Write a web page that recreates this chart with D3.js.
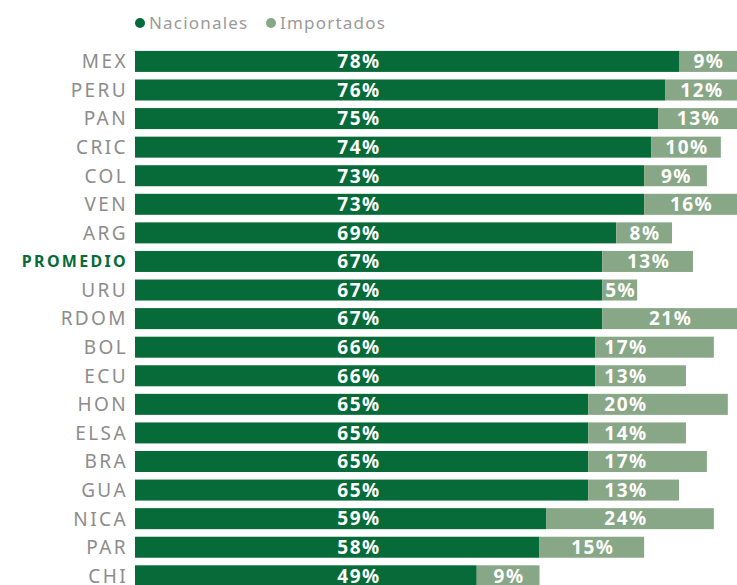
<!DOCTYPE html>
<html>
<head>
<meta charset="utf-8">
<script src="https://d3js.org/d3.v7.min.js"></script>
<style>
  body { margin: 0; background: #fff; }
  svg text { font-family: "Noto Sans", sans-serif; }
</style>
</head>
<body>
<script>
  const paises = ["MEX","PERU","PAN","CRIC","COL","VEN","ARG","PROMEDIO","URU","RDOM","BOL","ECU","HON","ELSA","BRA","GUA","NICA","PAR","CHI"];
  const nacionales = [78,76,75,74,73,73,69,67,67,67,66,66,65,65,65,65,59,58,49];
  const importados = [9,12,13,10,9,16,8,13,5,21,17,13,20,14,17,13,24,15,9];
  const series = ["Nacionales","Importados"];

  const w = 737, h = 585;
  const left = 135;
  const colNac = "#076a39", colImp = "#88a786";

  const svg = d3.select("body").append("svg")
    .attr("width", w).attr("height", h);

  const x = d3.scaleLinear().domain([0, 78]).range([left, 679]);
  const y = d3.scaleBand().domain(paises).range([51 - 7.6*0.5, 51 - 3.8 + 28.57*19]).paddingInner(0.265).paddingOuter(0.13);

  const rows = paises.map((p, i) => ({ p, nac: nacionales[i], imp: importados[i] }));

  // nacionales
  svg.selectAll("rect.nac").data(rows).enter().append("rect")
    .attr("x", x(0)).attr("y", d => y(d.p))
    .attr("width", d => x(d.nac) - x(0)).attr("height", y.bandwidth())
    .attr("fill", colNac);

  // importados
  svg.selectAll("rect.imp").data(rows).enter().append("rect")
    .attr("x", d => x(d.nac)).attr("y", d => y(d.p))
    .attr("width", d => x(d.nac + d.imp) - x(d.nac)).attr("height", y.bandwidth())
    .attr("fill", colImp);

  // etiquetas nacionales (columna fija)
  const colLabel = x(0) + (x(78) - x(0)) * 0.41 + 1;
  svg.selectAll("text.vn").data(rows).enter().append("text")
    .attr("x", colLabel).attr("y", d => y(d.p) + y.bandwidth() / 2)
    .attr("dy", "0.36em").attr("text-anchor", "middle")
    .attr("fill", "#fff").attr("font-weight", 700).attr("font-size", 19)
    .attr("letter-spacing", 1.5)
    .text(d => d.nac + "%");

  // etiquetas importados
  const colImpLabel = 626;
  svg.selectAll("text.vi").data(rows).enter().append("text")
    .attr("x", d => {
      const s = x(d.nac), e = x(d.nac + d.imp);
      if (s <= 602 && e >= 645 && d.p !== "PROMEDIO") return colImpLabel;
      return (s + Math.min(e, w)) / 2 + 1;
    })
    .attr("y", d => y(d.p) + y.bandwidth() / 2)
    .attr("dy", "0.36em").attr("text-anchor", "middle")
    .attr("fill", "#fff").attr("font-weight", 700).attr("font-size", 19)
    .attr("letter-spacing", 1.5)
    .text(d => d.imp + "%");

  // eje de países
  const yAxis = svg.append("g")
    .attr("transform", "translate(" + (left - 7) + ",0)")
    .call(d3.axisLeft(y).tickSize(0).tickPadding(0));
  yAxis.select(".domain").remove();
  yAxis.selectAll("text")
    .attr("font-family", "Noto Sans, sans-serif")
    .attr("font-size", 19).attr("fill", "#8c8c8c").attr("dy", "0.36em")
    .attr("letter-spacing", 2.4)
    .filter(d => d === "PROMEDIO")
    .attr("font-size", 16).attr("font-weight", 700).attr("fill", colNac)
    .attr("letter-spacing", 2.3);

  // leyenda
  const leg = svg.append("g").attr("transform", "translate(140,23)");
  const items = leg.selectAll("g").data(series).enter().append("g")
    .attr("transform", (d, i) => "translate(" + (i * 131) + ",0)");
  items.append("circle").attr("r", 5).attr("cx", 0).attr("cy", 0)
    .attr("fill", (d, i) => i === 0 ? colNac : colImp);
  items.append("text").attr("x", 9).attr("dy", "0.36em")
    .attr("font-size", 17).attr("fill", "#9a9a9a").attr("letter-spacing", 1.2)
    .text(d => d);
</script>
</body>
</html>
